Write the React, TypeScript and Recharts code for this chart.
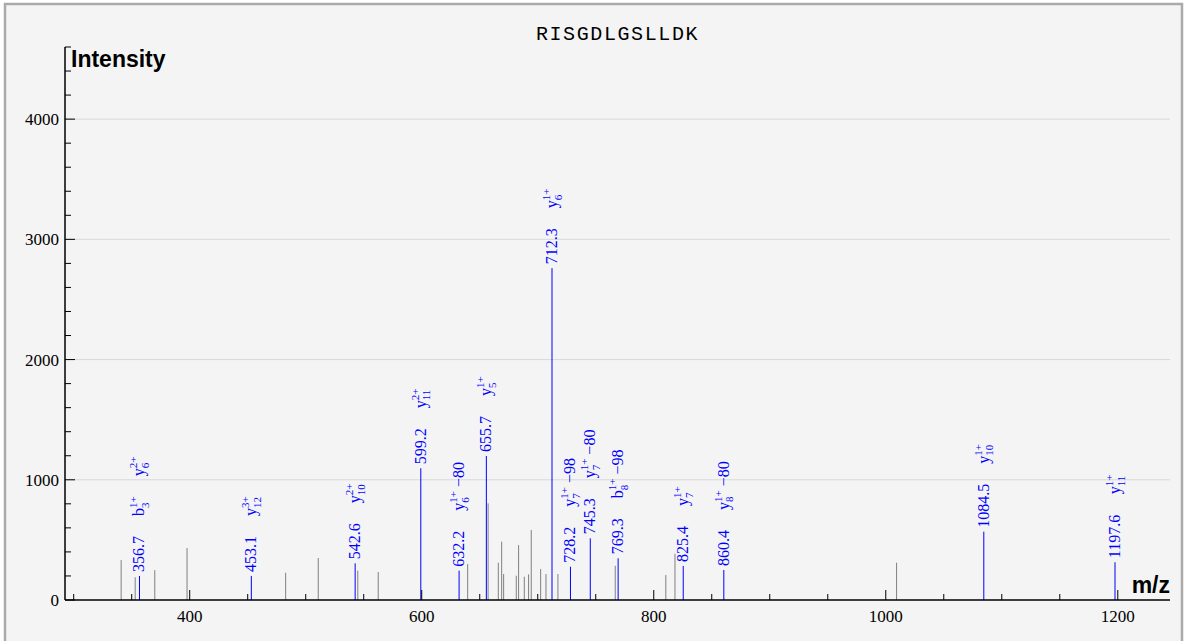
import React from 'react';
import { ComposedChart, XAxis, YAxis, CartesianGrid, Scatter, ReferenceLine } from 'recharts';

// ---------- data ----------
const peptide = 'RISGDLGSLLDK';
const yAxisTitle = 'Intensity';
const xAxisTitle = 'm/z';

const noiseMz = [340.9, 353.0, 369.9, 397.7, 482.7, 510.8, 544.9, 562.5, 639.6, 657.2, 666.0, 668.9, 670.6, 681.5, 683.5, 688.4, 692.1, 694.4, 702.5, 707.1, 717.4, 766.8, 810.4, 818.3, 1009.3];
const noiseIntensity = [332, 189, 249, 432, 227, 349, 244, 233, 299, 804, 310, 485, 216, 202, 457, 194, 213, 582, 258, 216, 216, 285, 208, 385, 310];

const matchedMz = [356.7, 453.1, 542.6, 599.2, 632.2, 655.7, 712.3, 728.2, 745.3, 769.3, 825.4, 860.4, 1084.5, 1197.6];
const matchedIntensity = [200, 200, 305, 1096, 244, 1198, 2760, 277, 513, 347, 283, 250, 568, 314];
// ion annotation: letter|index|charge|loss (stacked bottom to top)
const matchedIons = [
  ['b|3|1+', 'y|6|2+'],
  ['y|12|3+'],
  ['y|10|2+'],
  ['y|11|2+'],
  ['y|6|1+|\u221280'],
  ['y|5|1+'],
  ['y|6|1+'],
  ['y|7|1+|\u221298'],
  ['y|7|1+|\u221280'],
  ['b|8|1+|\u221298'],
  ['y|7|1+'],
  ['y|8|1+|\u221280'],
  ['y|10|1+'],
  ['y|11|1+'],
];

const xDomain = [292.5, 1245];
const yDomain = [0, 4600];
const xLabelTicks = [400, 600, 800, 1000, 1200];
const xAllTicks = [300, 350, 400, 450, 500, 550, 600, 650, 700, 750, 800, 850, 900, 950, 1000, 1050, 1100, 1150, 1200];
const yLabelTicks = [0, 1000, 2000, 3000, 4000];
const yAllTicks = [0, 200, 400, 600, 800, 1000, 1200, 1400, 1600, 1800, 2000, 2200, 2400, 2600, 2800, 3000, 3200, 3400, 3600, 3800, 4000, 4200, 4400, 4600];
const gridValues = [1000, 2000, 3000, 4000];

const noise = noiseMz.map((mz, i) => ({ mz, intensity: noiseIntensity[i] }));
const matched = matchedMz.map((mz, i) => ({ mz, intensity: matchedIntensity[i], ions: matchedIons[i] }));

// ---------- styles ----------
const SERIF = '"Liberation Serif", "Times New Roman", Times, serif';
const SANS = '"Liberation Sans", Arial, Helvetica, sans-serif';
const MONO = '"Liberation Mono", "Courier New", monospace';
const BLUE = '#0000ff';
const GRAY = '#808080';
const GAP = 20;
const FS = 16;
const SFS = 11;
const TICK_FS = 17;
const X_MARGIN = 10;
const Y_MARGIN = 6;

function textW(s: string, size: number) {
  let w = 0;
  for (const ch of s) {
    if (ch === '.') w += 0.25 * size;
    else if (ch === '+' || ch === '\u2212') w += 0.564 * size;
    else w += 0.5 * size;
  }
  return w;
}

function ionWidth(ion: string) {
  const [letter, sub, sup, loss] = ion.split('|');
  const lw = textW(letter, FS);
  const stack = Math.max(textW(sub, SFS), textW(sup, SFS));
  return lw + stack + (loss ? 4 + textW(loss, FS) : 0);
}

function Ion({ x, ion }: { x: number; ion: string }) {
  const [letter, sub, sup, loss] = ion.split('|');
  const lw = textW(letter, FS);
  const stack = Math.max(textW(sub, SFS), textW(sup, SFS));
  return (
    <g>
      <text x={x} y={5} fontSize={FS}>{letter}</text>
      <text x={x + lw} y={9.5} fontSize={SFS}>{sub}</text>
      <text x={x + lw} y={-2} fontSize={SFS}>{sup}</text>
      {loss ? <text x={x + lw + stack + 4} y={5} fontSize={FS}>{loss}</text> : null}
    </g>
  );
}

function MatchedLabel(props: any) {
  const { cx, cy, payload } = props;
  if (cx == null || cy == null || !payload) return <g />;
  const mzText = payload.mz.toFixed(1);
  let offset = 4 + textW(mzText, FS) + GAP;
  const parts: any[] = [];
  (payload.ions as string[]).forEach((ion, i) => {
    parts.push(<Ion key={i} x={offset} ion={ion} />);
    offset += ionWidth(ion) + GAP;
  });
  return (
    <g transform={`translate(${cx},${cy}) rotate(-90)`} fill={BLUE} fontFamily={SERIF}>
      <text x={4} y={5} fontSize={FS}>{mzText}</text>
      {parts}
    </g>
  );
}

function XTick(props: any) {
  const { x, y, payload } = props;
  const v = payload.value;
  const major = xLabelTicks.includes(v);
  const base = y - X_MARGIN;
  return (
    <g>
      <line x1={x} y1={base} x2={x} y2={base - (major ? 10 : 6)} stroke="#000" strokeWidth={1} />
      {major ? (
        <text x={x} y={y} dy="0.71em" textAnchor="middle" fontFamily={SERIF} fontSize={TICK_FS} fill="#000">{v}</text>
      ) : null}
    </g>
  );
}

function YTick(props: any) {
  const { x, y, payload } = props;
  const v = payload.value;
  const major = yLabelTicks.includes(v);
  const base = x + Y_MARGIN;
  return (
    <g>
      <line x1={base} y1={y} x2={base + (major ? 10 : 6)} y2={y} stroke="#000" strokeWidth={1} />
      {major ? (
        <text x={x} y={y} dy="0.355em" textAnchor="end" fontFamily={SERIF} fontSize={TICK_FS} fill="#000">{v}</text>
      ) : null}
    </g>
  );
}

export default function App() {
  return (
    <div style={{ position: 'absolute', left: 0, top: 0, width: 1186, height: 641, background: '#ffffff', overflow: 'hidden' }}>
      <svg width={1186} height={641} style={{ position: 'absolute', left: 0, top: 0 }}>
        <rect x={5} y={4} width={1177} height={700} fill="#f4f4f4" stroke="#aaaaaa" strokeWidth={2.5} />
        <text x={617.5} y={40} textAnchor="middle" fontFamily={MONO} fontSize={20} letterSpacing={1.6} fill="#000">{peptide}</text>
        <text x={71} y={67} fontFamily={SANS} fontWeight="bold" fontSize={23} fill="#000">{yAxisTitle}</text>
        <text x={1170} y={593} textAnchor="end" fontFamily={SANS} fontWeight="bold" fontSize={23} fill="#000">{xAxisTitle}</text>
      </svg>
      <ComposedChart
        width={1186}
        height={641}
        margin={{ top: 47, right: 16, bottom: 0, left: 0 }}
        style={{ position: 'absolute', left: 0, top: 0 }}
      >
        <CartesianGrid xAxisId="x" yAxisId="y" vertical={false} horizontalValues={gridValues} stroke="#d8d8d8" />
        <XAxis xAxisId="x" dataKey="mz" type="number" domain={xDomain} ticks={xAllTicks} allowDataOverflow height={41}
          axisLine={{ stroke: '#000', strokeWidth: 1.5 }} tickLine={false} tickSize={0} tickMargin={X_MARGIN} tick={XTick} interval={0} />
        <YAxis yAxisId="y" dataKey="intensity" type="number" domain={yDomain} ticks={yAllTicks} allowDataOverflow width={65}
          axisLine={{ stroke: '#000', strokeWidth: 1.5 }} tickLine={false} tickSize={0} tickMargin={Y_MARGIN} tick={YTick} interval={0} />
        {noise.map((p, i) => (
          <ReferenceLine key={'n' + i} xAxisId="x" yAxisId="y"
            segment={[{ x: p.mz, y: 0 }, { x: p.mz, y: p.intensity }]} stroke={GRAY} strokeWidth={1} />
        ))}
        {matched.map((p, i) => (
          <ReferenceLine key={'m' + i} xAxisId="x" yAxisId="y"
            segment={[{ x: p.mz, y: 0 }, { x: p.mz, y: p.intensity }]} stroke={BLUE} strokeWidth={1} />
        ))}
        <Scatter xAxisId="x" yAxisId="y" data={matched} dataKey="intensity" shape={MatchedLabel} isAnimationActive={false} />
      </ComposedChart>
    </div>
  );
}
